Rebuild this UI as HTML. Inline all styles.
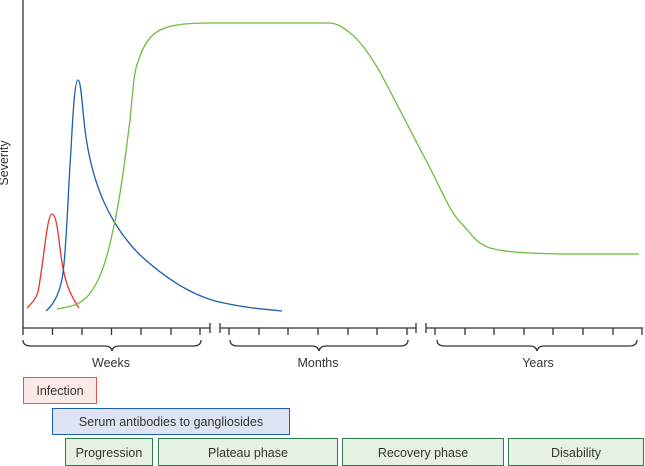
<!DOCTYPE html>
<html><head><meta charset="utf-8"><style>
body{margin:0;background:#fff;}
svg{display:block;font-family:"Liberation Sans",sans-serif;}
</style></head><body>
<svg width="645" height="466" viewBox="0 0 645 466" xmlns="http://www.w3.org/2000/svg">
<g stroke="#333" stroke-width="1.3" fill="none">
<line x1="23" y1="0" x2="23" y2="328"/>
<line x1="23" y1="328" x2="210" y2="328"/>
<line x1="220" y1="328" x2="416" y2="328"/>
<line x1="426" y1="328" x2="643" y2="328"/>
<line x1="210" y1="323" x2="210" y2="333"/><line x1="220" y1="323" x2="220" y2="333"/>
<line x1="416" y1="323" x2="416" y2="333"/><line x1="426" y1="323" x2="426" y2="333"/>
<path d="M23 328v7M52.5 328v7M82 328v7M111.5 328v7M141 328v7M171 328v7M200 328v7
M229 328v7M259 328v7M288 328v7M318 328v7M348 328v7M377 328v7M407 328v7
M435 328v7M465 328v7M494 328v7M524 328v7M553 328v7M583 328v7M613 328v7M642 328v7"/>
<path d="M23 340q0 6 8 6h74q6 0 7 5q1-5 7-5h74q8 0 8-6"/>
<path d="M230 340q0 6 8 6h74q6 0 7 5q1-5 7-5h74q8 0 8-6"/>
<path d="M437 340q0 6 8 6h85q6 0 7 5q1-5 7-5h85q8 0 8-6"/>
</g>
<text x="8" y="163" font-size="12.5" fill="#333" text-anchor="middle" transform="rotate(-90 8 163)">Severity</text>
<g font-size="12.5" fill="#333" text-anchor="middle">
<text x="111" y="367">Weeks</text><text x="318" y="367">Months</text><text x="538" y="367">Years</text>
</g>
<path d="M27 308C32 303 35 300 38 292C44 260 47 214 52 214C58 214 59 250 63 268C67 290 74 300 79 308" stroke="#e8312a" stroke-width="1.3" fill="none"/>
<path d="M46 311C53 305 60 295 63 273C67 240 68 190 71 150C73 110 75 80 78 80C81 80 82 105 85 130C92 185 110 225 140 255C165 278 190 294 215 301C240 307 260 309 282 311" stroke="#1a5fb0" stroke-width="1.3" fill="none"/>
<path d="M57 309C68 307 75 306 82 301C95 292 105 270 113 230C120 200 125 160 130 120C133 90 134 70 138 62C143 45 150 35 160 30C172 24 190 23 210 23L328 23C337 23 343 27 350 33C360 40 370 55 380 72C395 100 410 130 430 168C445 198 452 215 462 224C470 232 475 243 490 248C505 252 520 253 560 254L639 254" stroke="#6dbb3f" stroke-width="1.3" fill="none"/>
<g font-size="12.5" fill="#333" text-anchor="middle">
<rect x="23.5" y="377.5" width="73" height="26" fill="#fbe9e7" stroke="#e8544a"/>
<text x="60" y="395">Infection</text>
<rect x="52.5" y="408.5" width="237" height="26" fill="#dde3f2" stroke="#1a5fb0"/>
<text x="171" y="426">Serum antibodies to gangliosides</text>
<rect x="65.5" y="438.5" width="87" height="27" fill="#e7f1e3" stroke="#2e7d4f"/>
<text x="109" y="457">Progression</text>
<rect x="158.5" y="438.5" width="179" height="27" fill="#e7f1e3" stroke="#2e7d4f"/>
<text x="248" y="457">Plateau phase</text>
<rect x="342.5" y="438.5" width="161" height="27" fill="#e7f1e3" stroke="#2e7d4f"/>
<text x="423" y="457">Recovery phase</text>
<rect x="508.5" y="438.5" width="135" height="27" fill="#e7f1e3" stroke="#2e7d4f"/>
<text x="576" y="457">Disability</text>
</g>
</svg>
</body></html>
